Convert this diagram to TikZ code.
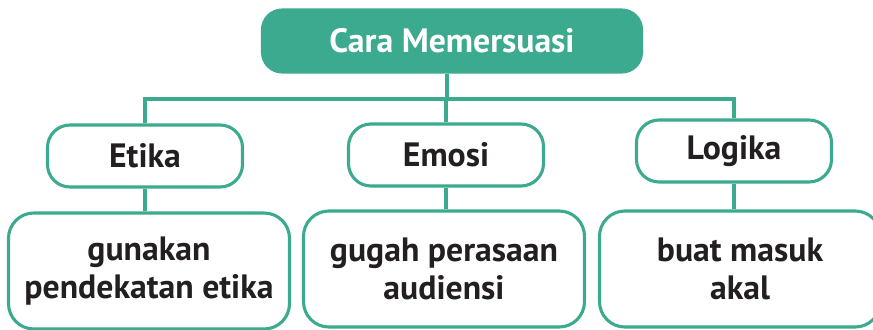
\documentclass[tikz,border=0pt]{standalone}
\usepackage{fontspec}
\setmainfont{PT Sans}
\usepackage{tikz}
\usetikzlibrary{positioning}

\definecolor{hijau}{HTML}{3BAA8E}
\definecolor{tinta}{HTML}{231F20}

\tikzset{
  judul/.style={draw=hijau, fill=hijau, line width=2.2pt, rounded corners=14pt,
    minimum width=379*0.025cm, minimum height=62*0.025cm, inner sep=0pt,
    text=white, font=\fontsize{24}{28}\selectfont\bfseries},
  aspek/.style={draw=hijau, line width=2.2pt, rounded corners=16pt, fill=white,
    minimum width=195*0.025cm, minimum height=62*0.025cm, inner sep=0pt,
    text=tinta, font=\fontsize{24}{28}\selectfont\bfseries},
  isi/.style={draw=hijau, line width=2.2pt, rounded corners=18pt, fill=white,
    minimum width=281*0.025cm, minimum height=116*0.025cm, inner sep=0pt,
    text=tinta, align=center, font=\fontsize{24}{26.5}\selectfont\bfseries},
  garis/.style={draw=hijau, line width=2.2pt}
}

\begin{document}
\begin{tikzpicture}[x=0.025cm, y=-0.025cm]
    \useasboundingbox (0,0) rectangle (873,329);
    \clip (0,0) rectangle (873,329);
    % kotak atas
    \node[judul] (cara) at (452,41) {Cara Memersuasi};
    % tiga aspek
    \node[aspek] (etika) at (145,156) {Etika};
    \node[aspek] (emosi) at (446,155) {Emosi};
    \node[aspek] (logika) at (734,151) {Logika};
    % penjelasan
    \node[isi] (isiEtika) at (149,271) {gunakan\\pendekatan etika};
    \node[isi] (isiEmosi) at (444,269) {gugah perasaan\\audiensi};
    \node[isi] (isiLogika) at (740,269) {buat masuk\\akal};
    % garis penghubung
    \coordinate (bus) at (447,99);
    \draw[garis] (cara.south -| bus) -- (bus);
    \draw[garis] (etika.north) |- (bus) -| (logika.north);
    \draw[garis] (emosi.north) -- (emosi.north |- bus);
    \draw[garis] (etika.south) -- (etika.south |- isiEtika.north);
    \draw[garis] (emosi.south) -- (emosi.south |- isiEmosi.north);
    \draw[garis] (logika.south) -- (logika.south |- isiLogika.north);
\end{tikzpicture}
\end{document}
